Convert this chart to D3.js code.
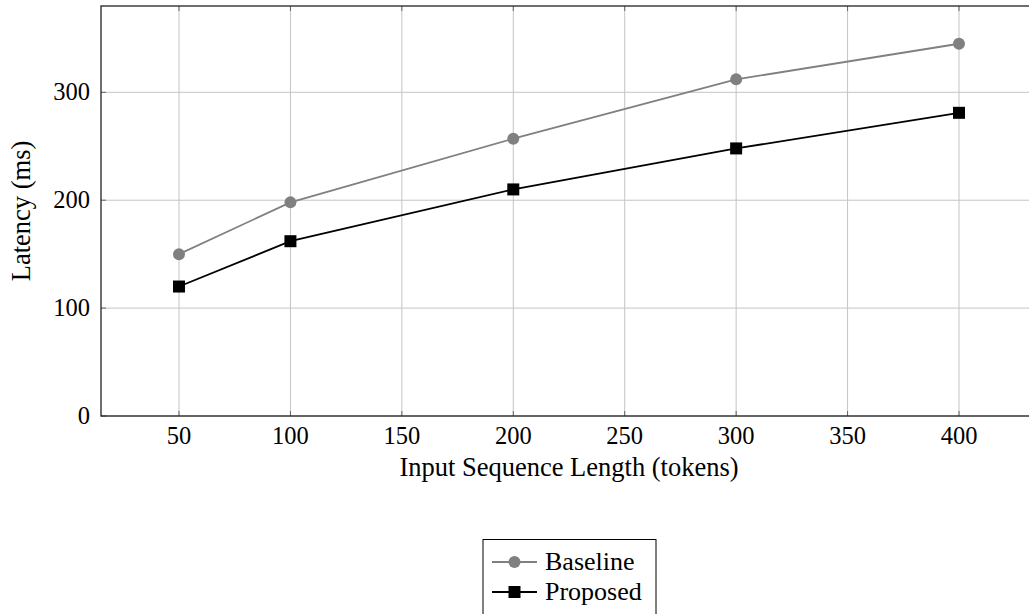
<!DOCTYPE html>
<html>
<head>
<meta charset="utf-8">
<script src="https://cdn.jsdelivr.net/npm/d3@7/dist/d3.min.js"></script>
<style>
  html, body { margin: 0; padding: 0; background: #fff; }
  svg { display: block; }
  text { font-family: "Liberation Serif", "DejaVu Serif", serif; fill: #000; }
</style>
</head>
<body>
<svg id="chart" width="1029" height="614"></svg>
<script>
const xValues = [50, 100, 200, 300, 400];
const baseline = [150, 198, 257, 312, 345];
const proposed = [120, 162, 210, 248, 281];
const xTicks = [50, 100, 150, 200, 250, 300, 350, 400];
const yTicks = [0, 100, 200, 300];
const seriesNames = ["Baseline", "Proposed"];
const xLabel = "Input Sequence Length (tokens)";
const yLabel = "Latency (ms)";

(function () {
const svg = d3.select("#chart");
const pL = 101, pR = 1037, pT = 6, pB = 416;
const x = d3.scaleLinear().domain([15, 435]).range([pL, pR]);
const y = d3.scaleLinear().domain([0, 380]).range([pB, pT]);

// grid
const g = svg.append("g");
g.selectAll(".vg").data(xTicks).enter().append("line")
  .attr("x1", d => x(d)).attr("x2", d => x(d))
  .attr("y1", pT).attr("y2", pB)
  .attr("stroke", "#c4c4c4").attr("stroke-width", 1);
g.selectAll(".hg").data(yTicks).enter().append("line")
  .attr("x1", pL).attr("x2", pR)
  .attr("y1", d => y(d)).attr("y2", d => y(d))
  .attr("stroke", "#c4c4c4").attr("stroke-width", 1);

// inner ticks
const tl = 5;
g.selectAll(".tb").data(xTicks).enter().append("line")
  .attr("x1", d => x(d)).attr("x2", d => x(d)).attr("y1", pB).attr("y2", pB - tl)
  .attr("stroke", "#666").attr("stroke-width", 1);
g.selectAll(".tt").data(xTicks).enter().append("line")
  .attr("x1", d => x(d)).attr("x2", d => x(d)).attr("y1", pT).attr("y2", pT + tl)
  .attr("stroke", "#666").attr("stroke-width", 1);
g.selectAll(".tlft").data(yTicks).enter().append("line")
  .attr("x1", pL).attr("x2", pL + tl).attr("y1", d => y(d)).attr("y2", d => y(d))
  .attr("stroke", "#666").attr("stroke-width", 1);
g.selectAll(".trt").data(yTicks).enter().append("line")
  .attr("x1", pR).attr("x2", pR - tl).attr("y1", d => y(d)).attr("y2", d => y(d))
  .attr("stroke", "#666").attr("stroke-width", 1);

// frame
svg.append("rect").attr("x", pL).attr("y", pT)
  .attr("width", pR - pL).attr("height", pB - pT)
  .attr("fill", "none").attr("stroke", "#222").attr("stroke-width", 1.3);

// tick labels
svg.selectAll(".xl").data(xTicks).enter().append("text")
  .attr("x", d => x(d)).attr("y", 444)
  .attr("text-anchor", "middle").attr("font-size", 24.5)
  .text(d => d);
svg.selectAll(".yl").data(yTicks).enter().append("text")
  .attr("x", 90).attr("y", d => y(d) + 8)
  .attr("text-anchor", "end").attr("font-size", 24.5)
  .text(d => d);

// axis labels
svg.append("text").attr("x", (pL + pR) / 2).attr("y", 476)
  .attr("text-anchor", "middle").attr("font-size", 26.5).text(xLabel);
svg.append("text").attr("transform", `translate(30,${(pT + pB) / 2}) rotate(-90)`)
  .attr("text-anchor", "middle").attr("font-size", 26.5).text(yLabel);

// series
const data = [
  { name: seriesNames[0], values: baseline, color: "#808080", marker: "circle" },
  { name: seriesNames[1], values: proposed, color: "#000000", marker: "square" }
];
const line = d3.line().x(d => x(d[0])).y(d => y(d[1]));
data.forEach(s => {
  const pts = xValues.map((v, i) => [v, s.values[i]]);
  svg.append("path").datum(pts).attr("d", line)
    .attr("fill", "none").attr("stroke", s.color).attr("stroke-width", 1.8);
  if (s.marker === "circle") {
    svg.selectAll(null).data(pts).enter().append("circle")
      .attr("cx", d => x(d[0])).attr("cy", d => y(d[1])).attr("r", 6)
      .attr("fill", s.color);
  } else {
    svg.selectAll(null).data(pts).enter().append("rect")
      .attr("x", d => x(d[0]) - 6).attr("y", d => y(d[1]) - 6)
      .attr("width", 12).attr("height", 12).attr("fill", s.color);
  }
});

// legend
const lg = svg.append("g");
lg.append("rect").attr("x", 483).attr("y", 539.5).attr("width", 173).attr("height", 90)
  .attr("fill", "#fff").attr("stroke", "#000").attr("stroke-width", 1);
data.forEach((s, i) => {
  const cy = 562 + i * 30;
  lg.append("line").attr("x1", 492).attr("x2", 537).attr("y1", cy).attr("y2", cy)
    .attr("stroke", s.color).attr("stroke-width", 1.8);
  if (s.marker === "circle") {
    lg.append("circle").attr("cx", 514.5).attr("cy", cy).attr("r", 6).attr("fill", s.color);
  } else {
    lg.append("rect").attr("x", 508.5).attr("y", cy - 6).attr("width", 12).attr("height", 12).attr("fill", s.color);
  }
  lg.append("text").attr("x", 545).attr("y", cy + 8).attr("font-size", 26).text(s.name);
});
})();
</script>
</body>
</html>
